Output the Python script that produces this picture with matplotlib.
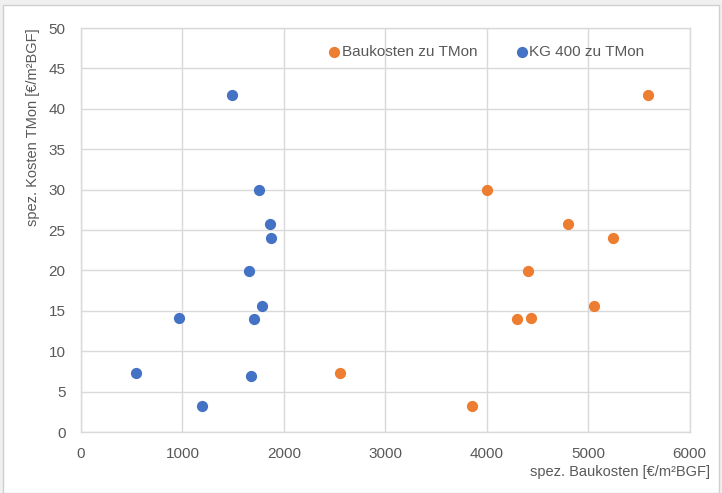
import matplotlib
matplotlib.use("Agg")
import matplotlib.pyplot as plt
from matplotlib.patches import Rectangle

# data
bau_x = [5590, 4000, 4800, 5245, 4410, 5055, 4300, 4435, 2555, 3850]
bau_y = [41.7, 30.0, 25.7, 24.05, 19.9, 15.6, 13.95, 14.07, 7.34, 3.26]

kg400_x = [1490, 1750, 1862, 1870, 1653, 1787, 966, 1705, 539, 1672, 1193]
kg400_y = [41.7, 30.0, 25.7, 24.05, 19.9, 15.6, 14.07, 13.95, 7.34, 6.97, 3.26]

x_ticks = [0, 1000, 2000, 3000, 4000, 5000, 6000]
y_ticks = [0, 5, 10, 15, 20, 25, 30, 35, 40, 45, 50]

plt.rcParams['font.family'] = ['Liberation Sans', 'DejaVu Sans']

fig = plt.figure(figsize=(7.22, 4.93), dpi=100)
fig.patch.set_facecolor('#f0f0f0')
# white chart area with thin frame
fig.patches.append(Rectangle((3 / 722, 0), 716 / 722, 488 / 493, transform=fig.transFigure,
                             facecolor='white', edgecolor='#d0d0d0', linewidth=1, zorder=-1))

ax = fig.add_axes([81 / 722, 1 - 432 / 493, 608.7 / 722, 404 / 493])
ax.set_facecolor('white')

ax.scatter(bau_x, bau_y, s=50, color='#ED7D31', label='Baukosten zu TMon', zorder=3)
ax.scatter(kg400_x, kg400_y, s=50, color='#4472C4', label='KG 400 zu TMon', zorder=3)

ax.set_xlim(0, 6000)
ax.set_ylim(0, 50)
ax.set_xticks(x_ticks)
ax.set_yticks(y_ticks)
ax.grid(True, color='#d9d9d9', linewidth=1)
ax.set_axisbelow(True)
for s in ax.spines.values():
    s.set_color('#d9d9d9')
    s.set_linewidth(1)
ax.tick_params(length=0, labelsize=11, colors='#595959', pad=11)

ax.set_ylabel('spez. Kosten TMon [€/m²BGF]', fontsize=10.5, color='#595959', loc='top', labelpad=6)
fig.text(710 / 722, 1 - 472 / 493, 'spez. Baukosten [€/m²BGF]', fontsize=10.5, color='#595959',
         ha='right', va='center')

leg = ax.legend(loc='center', bbox_to_anchor=(0.667, 0.94), ncol=2, frameon=False,
                fontsize=11, handlelength=0.6, handletextpad=0.2, columnspacing=2.6,
                scatterpoints=1, labelcolor='#595959')

fig.savefig('out.png', dpi=100)
